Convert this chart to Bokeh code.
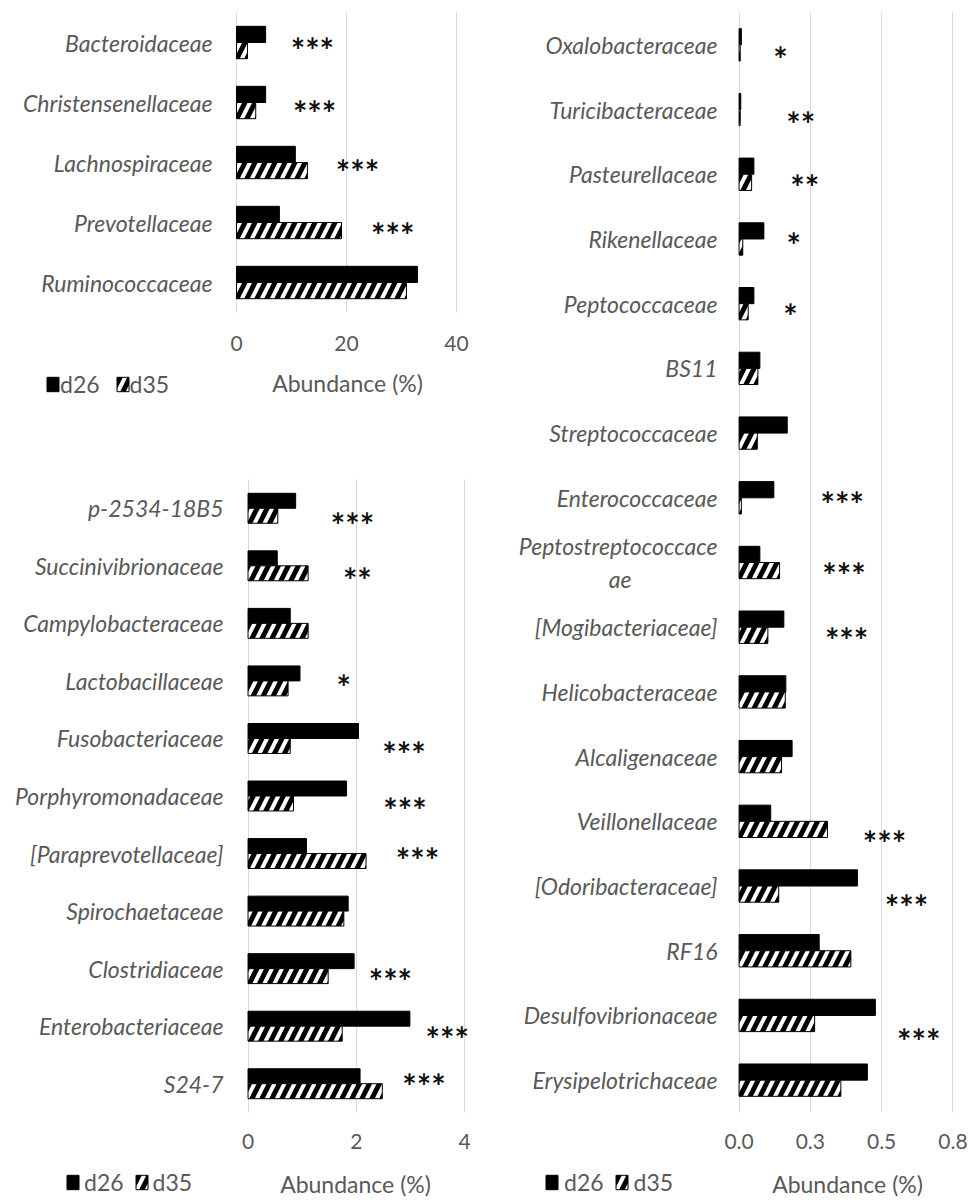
from bokeh.plotting import figure
from bokeh.layouts import row, column
from bokeh.models import (ColumnDataSource, FactorRange, FixedTicker, Legend, LegendItem, Range1d,
                          Label, Plot)
from bokeh.transform import dodge
from bokeh.core.properties import value
from bokeh.embed import file_html
from bokeh.resources import INLINE

# ---------------- data ----------------
tl_cats = ["Bacteroidaceae", "Christensenellaceae", "Lachnospiraceae", "Prevotellaceae", "Ruminococcaceae"]
tl_d26 = [5.3, 5.3, 10.7, 7.8, 32.9]
tl_d35 = [2.0, 3.5, 12.9, 19.1, 30.9]
tl_sig = ["***", "***", "***", "***", ""]
tl_star_x = [13.8, 14.2, 22.0, 28.4, 0]
tl_star_dy = [1, 4, 3, 6, 0]
tl_ticks = [0, 20, 40]
tl_tick_labels = ["0", "20", "40"]

bl_cats = ["p-2534-18B5", "Succinivibrionaceae", "Campylobacteraceae", "Lactobacillaceae",
           "Fusobacteriaceae", "Porphyromonadaceae", "[Paraprevotellaceae]", "Spirochaetaceae",
           "Clostridiaceae", "Enterobacteriaceae", "S24-7"]
bl_d26 = [0.88, 0.54, 0.78, 0.96, 2.04, 1.82, 1.08, 1.85, 1.96, 2.99, 2.07]
bl_d35 = [0.55, 1.11, 1.11, 0.74, 0.78, 0.84, 2.18, 1.77, 1.48, 1.74, 2.48]
bl_sig = ["***", "**", "", "*", "***", "***", "***", "", "***", "***", "***"]
bl_star_x = [1.93, 2.02, 0, 1.77, 2.88, 2.90, 3.13, 0, 2.63, 3.68, 3.25]
bl_star_dy = [10, 8, 0, 0, 9, 7, 0, 0, 6, 6, -4]
bl_ticks = [0, 2, 4]
bl_tick_labels = ["0", "2", "4"]

r_cats = ["Oxalobacteraceae", "Turicibacteraceae", "Pasteurellaceae", "Rikenellaceae", "Peptococcaceae",
          "BS11", "Streptococcaceae", "Enterococcaceae", "Peptostreptococcaceae", "[Mogibacteriaceae]",
          "Helicobacteraceae", "Alcaligenaceae", "Veillonellaceae", "[Odoribacteraceae]", "RF16",
          "Desulfovibrionaceae", "Erysipelotrichaceae"]
r_d26 = [0.008, 0.006, 0.052, 0.087, 0.052, 0.073, 0.169, 0.122, 0.073, 0.157, 0.164, 0.186,
         0.111, 0.415, 0.281, 0.478, 0.450]
r_d35 = [0.004, 0.004, 0.044, 0.013, 0.032, 0.066, 0.064, 0.008, 0.142, 0.101, 0.162, 0.149,
         0.310, 0.139, 0.392, 0.265, 0.357]
r_sig = ["*", "**", "**", "*", "*", "", "", "***", "***", "***", "", "", "***", "***", "", "***", ""]
r_star_x = [0.145, 0.216, 0.23, 0.192, 0.18, 0, 0, 0.362, 0.368, 0.377, 0, 0, 0.51, 0.587, 0, 0.63, 0]
r_star_dy = [8, 8, 6, 0, 6, 0, 0, 0, 6, 6, 0, 0, 15, 14, 0, 19, 0]
r_ticks = [0, 0.25, 0.5, 0.75]
r_tick_labels = ["0.0", "0.3", "0.5", "0.8"]
# the long label wraps onto a second, centred line as in the original
r_wrapped = {"Peptostreptococcaceae": "Peptostreptococcace\nae" + "\u00a0" * 16}

series_names = ["d26", "d35"]
axis_title = "Abundance (%)"

FONT = "Lato"
GRAY = "#595959"
GRID = "#d9d9d9"
FA = {"frame_align": False} if "frame_align" in Plot.properties() else {}

D26_STYLE = dict(fill_color="black", line_color="black", line_width=1)
D35_STYLE = dict(fill_color="white", line_color="black", line_width=1,
                 hatch_pattern="/", hatch_color="black", hatch_scale=20, hatch_weight=5)


def panel(cats, d26, d35, sig, star_x, star_dy, ticks, tick_labels, xr,
          W, H, bl, br, bt, bb, bar_h, y_so, tick_so, wrap=None):
    wrap = wrap or {}
    labels = [wrap.get(c, c) for c in cats]
    src = ColumnDataSource(dict(cat=labels, d26=d26, d35=d35))
    p = figure(width=W, height=H, y_range=FactorRange(factors=list(reversed(labels))),
               x_range=Range1d(*xr), output_backend="svg", toolbar_location=None,
               min_border_left=bl, min_border_right=br, min_border_top=bt, min_border_bottom=bb, **FA)
    p.hbar(y=dodge("cat", bar_h / 2, range=p.y_range), right="d26", height=bar_h, source=src, **D26_STYLE)
    p.hbar(y=dodge("cat", -bar_h / 2, range=p.y_range), right="d35", height=bar_h, source=src, **D35_STYLE)
    idx = [i for i, s in enumerate(sig) if s]
    ssrc = ColumnDataSource(dict(cat=[labels[i] for i in idx], x=[star_x[i] for i in idx],
                                 t=[sig[i] for i in idx],
                                 dy=[star_dy[i] + 6 for i in idx]))
    p.text(x="x", y="cat", text="t", source=ssrc, y_offset="dy", text_align="center",
           text_baseline="alphabetic", text_font=value(FONT), text_font_style="bold",
           text_font_size="34px", text_color="#111111")

    p.outline_line_color = None
    p.xgrid.ticker = FixedTicker(ticks=ticks)
    p.xgrid.grid_line_color = GRID
    p.ygrid.grid_line_color = None

    xa = p.xaxis[0]
    xa.ticker = FixedTicker(ticks=ticks)
    xa.major_label_overrides = {t: l for t, l in zip(ticks, tick_labels)}
    xa.axis_line_color = None
    xa.major_tick_line_color = None
    xa.minor_tick_line_color = None
    xa.major_tick_out = 0
    xa.major_tick_in = 0
    xa.major_label_text_font = FONT
    xa.major_label_text_font_size = "21px"
    xa.major_label_text_color = GRAY
    xa.major_label_standoff = tick_so

    ya = p.yaxis[0]
    ya.axis_line_color = None
    ya.major_tick_line_color = None
    ya.minor_tick_line_color = None
    ya.major_tick_out = 0
    ya.major_tick_in = 0
    ya.major_label_text_font = FONT
    ya.major_label_text_font_style = "italic"
    ya.major_label_text_font_size = "23px"
    ya.major_label_text_color = GRAY
    ya.major_label_text_line_height = 1.15
    ya.major_label_standoff = y_so
    return p


def legend_row(W, H, leg_x, leg_y, leg_so, leg_sp, lab_x, lab_y):
    f = figure(width=W, height=H, x_range=Range1d(0, W), y_range=Range1d(0, H),
               x_axis_type=None, y_axis_type=None, min_border=0, output_backend="svg",
               toolbar_location=None, **FA)
    f.outline_line_color = None
    dummy = ColumnDataSource(dict(y=[-1000], r=[1]))
    a = f.hbar(y="y", right="r", height=1, source=dummy, **D26_STYLE)
    b = f.hbar(y="y", right="r", height=1, source=dummy, **D35_STYLE)
    leg = Legend(items=[LegendItem(label=series_names[0], renderers=[a]),
                        LegendItem(label=series_names[1], renderers=[b])],
                 location=(leg_x, leg_y), orientation="horizontal",
                 border_line_color=None, background_fill_alpha=0, padding=0, margin=0,
                 spacing=leg_sp, label_standoff=leg_so, glyph_width=15, glyph_height=18,
                 label_height=14,
                 label_text_font=FONT, label_text_font_size="23px", label_text_color=GRAY)
    f.add_layout(leg, "center")
    f.add_layout(Label(x=lab_x, y=lab_y, text=axis_title, text_align="center",
                       text_baseline="middle", text_font=FONT, text_font_size="23px",
                       text_color=GRAY))
    return f


p1 = panel(tl_cats, tl_d26, tl_d35, tl_sig, tl_star_x, tl_star_dy, tl_ticks, tl_tick_labels,
           xr=(-0.36, 42.55), W=472, H=370, bl=234, br=2, bt=12, bb=58, bar_h=0.27,
           y_so=22, tick_so=23)
l1 = legend_row(472, 40, leg_x=45, leg_y=12, leg_so=0, leg_sp=15, lab_x=347, lab_y=28)
p2 = panel(bl_cats, bl_d26, bl_d35, bl_sig, bl_star_x, bl_star_dy, bl_ticks, bl_tick_labels,
           xr=(-0.25, 4.11), W=472, H=745, bl=234, br=2, bt=69, bb=43, bar_h=0.26,
           y_so=11, tick_so=21)
l2 = legend_row(472, 43, leg_x=65, leg_y=2, leg_so=4, leg_sp=10, lab_x=355, lab_y=15)
p3 = panel(r_cats, r_d26, r_d35, r_sig, r_star_x, r_star_dy, r_ticks, r_tick_labels,
           xr=(-0.009, 0.759), W=498, H=1155, bl=264, br=15, bt=12, bb=43, bar_h=0.25,
           y_so=19, tick_so=21, wrap=r_wrapped)
l3 = legend_row(498, 43, leg_x=72, leg_y=2, leg_so=5, leg_sp=10, lab_x=375, lab_y=15)

layout = row(column(p1, l1, p2, l2), column(p3, l3))
open("out.html", "w").write(file_html(layout, INLINE))
